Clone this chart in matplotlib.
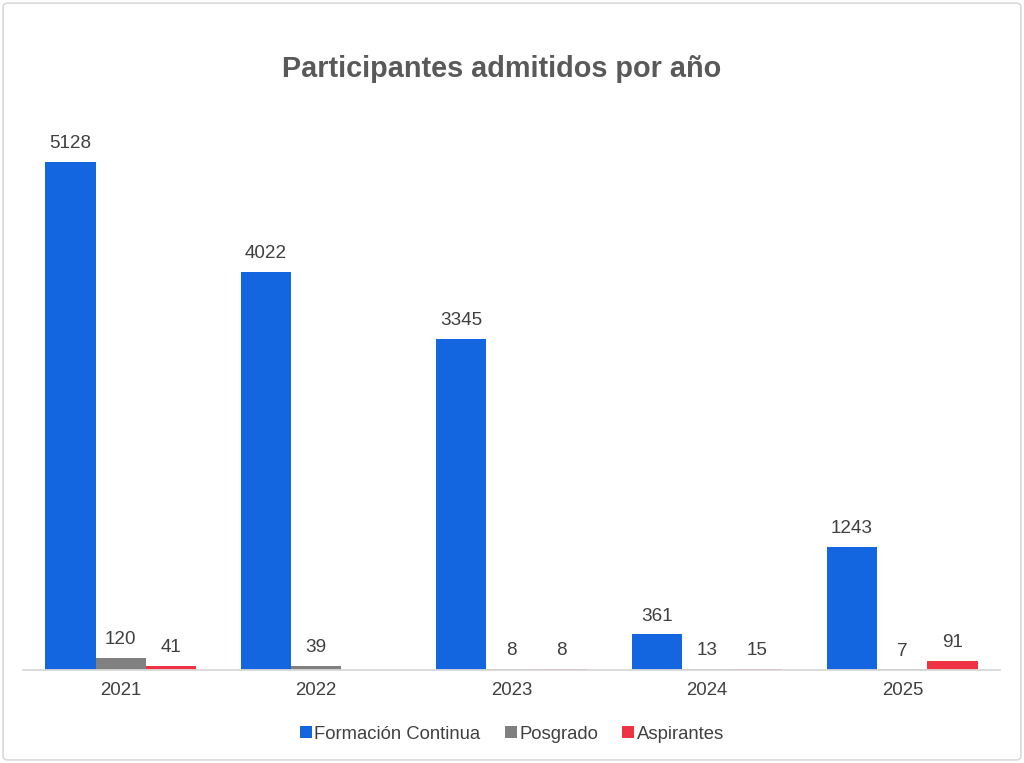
import matplotlib
matplotlib.use("Agg")
import matplotlib.pyplot as plt
import numpy as np
from matplotlib.patches import FancyBboxPatch

plt.rcParams['font.family'] = ['Liberation Sans', 'DejaVu Sans']

years = ["2021", "2022", "2023", "2024", "2025"]
formacion = [5128, 4022, 3345, 361, 1243]
posgrado = [120, 39, 8, 13, 7]
aspirantes = [41, None, 8, 15, 91]

series = [
    ("Formación Continua", formacion, "#1366e0"),
    ("Posgrado", posgrado, "#808080"),
    ("Aspirantes", aspirantes, "#ee3344"),
]

fig = plt.figure(figsize=(10.24, 7.63), dpi=100)
ax = fig.add_axes([0.0225, 0.1219, 0.9541, 0.779])

x = np.arange(len(years))
w = 0.257
for i, (name, vals, color) in enumerate(series):
    pos = x + (i - 1) * w
    for p, v in zip(pos, vals):
        if v is None:
            continue
        ax.bar(p, v, width=w, color=color, linewidth=0)
        ax.annotate(str(v), (p, v), xytext=(0, 7), textcoords="offset points",
                    ha="center", va="bottom", fontsize=13.6, color="#404040")
    ax.bar(0, 0, width=0, color=color, label=name)

ax.set_xlim(-0.5, 4.5)
ax.set_ylim(0, 6000)
ax.set_xticks(x)
ax.set_xticklabels(years, fontsize=13.4, color="#404040")
ax.tick_params(axis="x", length=0, pad=9)
ax.set_yticks([])
for s in ["top", "right", "left"]:
    ax.spines[s].set_visible(False)
ax.spines["bottom"].set_color("#d9d9d9")
ax.spines["bottom"].set_linewidth(1.3)

fig.text(0.49, 0.91, "Participantes admitidos por año", ha="center", va="center",
         fontsize=20.8, fontweight="bold", color="#595959")

fig.legend(loc="center", bbox_to_anchor=(0.5, 0.038), ncol=3, frameon=False,
           fontsize=13.3, handlelength=0.65, handleheight=0.65, handletextpad=0.15,
           columnspacing=1.3, labelcolor="#404040")

border = FancyBboxPatch((0.003, 0.004), 0.994, 0.992, boxstyle="round,pad=0,rounding_size=0.005",
                        transform=fig.transFigure, fill=False, edgecolor="#d9d9d9", linewidth=1.2)
fig.patches.append(border)

fig.savefig("out.png", dpi=100)
